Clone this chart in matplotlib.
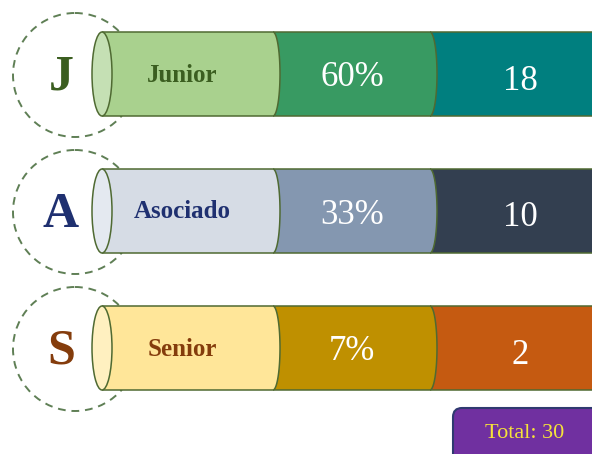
import matplotlib.pyplot as plt
import numpy as np
from matplotlib.patches import Ellipse, Circle, Polygon, FancyBboxPatch

# data
levels = ['Junior', 'Asociado', 'Senior']
letters = ['J', 'A', 'S']
counts = [18, 10, 2]
total = sum(counts)
pcts = [round(c * 100 / total) for c in counts]

# per-row colours: cap, light, mid, dark, label text
caps = ['#c5e0b4', '#e4e9f0', '#fff0c0']
lights = ['#a9d18e', '#d6dce5', '#ffe699']
mids = ['#389a62', '#8497b0', '#bf9000']
darks = ['#007f7f', '#333f50', '#c55a11']
txtcol = ['#3b5e20', '#1f3070', '#843c0c']

edge = '#4f6a32'
serif = ['Liberation Serif', 'DejaVu Serif']

fig = plt.figure(figsize=(5.92, 4.54), dpi=100)
ax = fig.add_axes([0, 0, 1, 1])
ax.set_xlim(0, 592)
ax.set_ylim(454, 0)
ax.axis('off')

row_y = [74, 211, 348]
h = 84
x0, x1, x2, x3 = 102, 273, 430, 640
a = 7  # half width of the ellipse ends


def segment(xs, xe, cy, color, z):
    t = np.linspace(np.pi / 2, -np.pi / 2, 40)
    arc = np.column_stack([xe + a * np.cos(t), cy - (h / 2) * np.sin(t)])
    pts = np.vstack([[xs, cy - h / 2], arc, [xs, cy + h / 2]])
    ax.add_patch(Polygon(pts, closed=False, facecolor=color, edgecolor=edge,
                         lw=1.1, zorder=z))


for i, cy in enumerate(row_y):
    ax.add_patch(Circle((75, cy + 1), 62, fill=False, edgecolor='#5f7f55',
                        lw=1.4, linestyle=(0, (4, 3)), zorder=1))
    segment(x2, x3, cy, darks[i], 2)
    segment(x1, x2, cy, mids[i], 3)
    segment(x0, x1, cy, lights[i], 4)
    ax.add_patch(Ellipse((x0, cy), 20, h, facecolor=caps[i],
                         edgecolor=edge, lw=1.1, zorder=5))

    ax.text(61, cy + 4, letters[i], ha='center', va='center', fontsize=36,
            fontweight='bold', color=txtcol[i], family=serif, zorder=6)
    ax.text(182, cy + 1, levels[i], ha='center', va='center', fontsize=18,
            fontweight='bold', color=txtcol[i], family=serif, zorder=6)
    ax.text(352, cy + 4, f'{pcts[i]}%', ha='center', va='center', fontsize=25,
            color='white', family=serif, zorder=6)
    ax.text(520, cy + 7, str(counts[i]), ha='center', va='center', fontsize=25,
            color='white', family=serif, zorder=6)

ax.add_patch(FancyBboxPatch((453, 408), 170, 70,
                            boxstyle='round,pad=0,rounding_size=9',
                            facecolor='#7030a0', edgecolor='#2f3a70', lw=1.5,
                            zorder=6))
ax.text(525, 434, f'Total: {total}', ha='center', va='center', fontsize=16,
        color='#f5e33a', family=serif, zorder=7)

fig.savefig('out.png', dpi=100)
